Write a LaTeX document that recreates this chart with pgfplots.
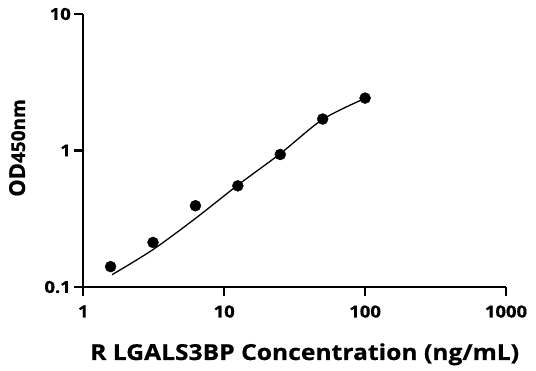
\documentclass[border=0pt]{standalone}
\usepackage{fontspec}
\setmainfont{Open Sans}
\newfontfamily\wide{Open Sans}[FakeStretch=1.12, FakeBold=0.6]
\newfontfamily\heavy{Open Sans}[FakeBold=0.6]
\usepackage{pgfplots}
\pgfplotsset{compat=1.18}
\begin{document}
\begin{tikzpicture}
\begin{loglogaxis}[
  scale only axis, width=422.7pt, height=273pt,
  at={(0,0)}, anchor=south west,
  xmin=1, xmax=1000, ymin=0.1, ymax=10,
  axis x line*=bottom, axis y line*=left,
  axis line style={line width=2.4pt, -},
  every tick/.style={black, line width=2.2pt},
  tick align=outside, major tick length=9pt,
  xtick={1,10,100,1000}, xticklabels={1,10,100,1000},
  ytick={0.1,1,10}, yticklabels={0.1,1,10},
  xminorticks=false, yminorticks=false,
  ticklabel style={font=\wide\fontsize{16.5}{16.5}\selectfont\bfseries},
  xticklabel style={yshift=-6pt},
  every axis x label/.style={at={(axis description cs:0.5,0)}, anchor=base, yshift=-73pt, xshift=10pt,
     font=\wide\fontsize{22}{22}\selectfont\bfseries},
  every axis y label/.style={at={(axis description cs:0,0.509)}, xshift=-58.3pt, rotate=90, anchor=base},
  xlabel={R LGALS3BP Concentration (ng/mL)},
  ylabel={{\heavy\fontsize{22}{22}\selectfont\bfseries OD}{\heavy\fontsize{19}{19}\selectfont\bfseries 450nm}},
  clip=false,
]
\addplot[smooth, black, line width=1.3pt, no marks] coordinates {
  (1.6,0.123) (3.125,0.188) (6.25,0.318) (12.5,0.558) (25,0.948) (50,1.69) (100,2.41)
};
\addplot[only marks, mark=*, mark size=5.5pt, black] coordinates {
  (1.5625,0.141) (3.125,0.212) (6.25,0.394) (12.5,0.551) (25,0.935) (50,1.70) (100,2.42)
};
\end{loglogaxis}
\pgfresetboundingbox
\path (-83.3pt,-84pt) rectangle (452.7pt,287pt);
\end{tikzpicture}
\end{document}
